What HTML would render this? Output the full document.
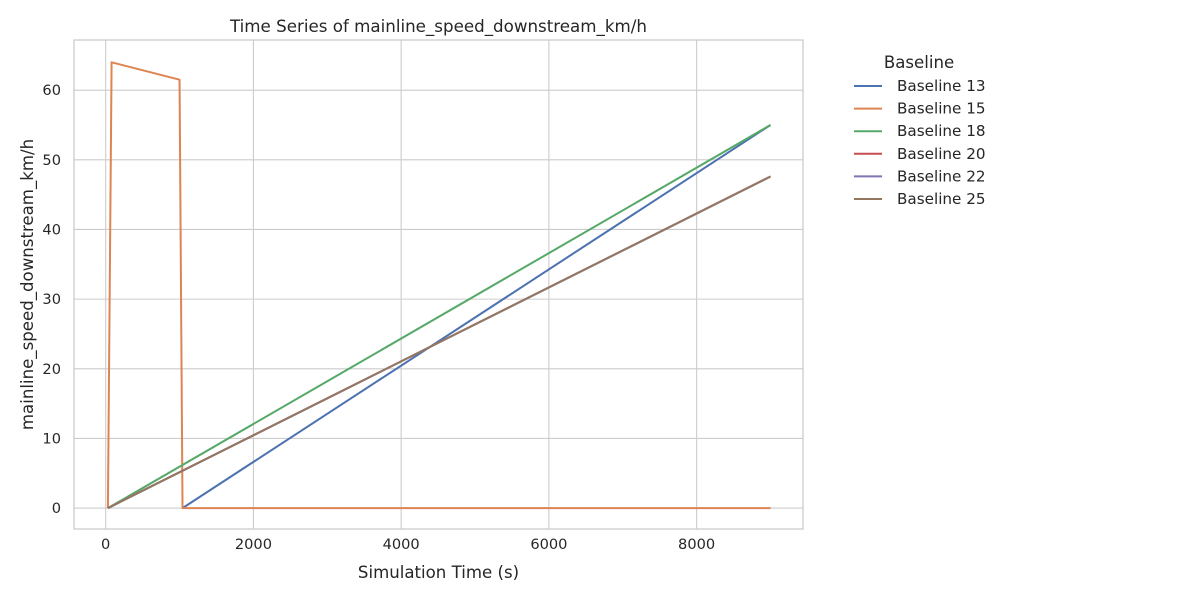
<!DOCTYPE html>
<html><head><meta charset="utf-8"><style>
body{margin:0;background:#fff;font-family:"Liberation Sans","DejaVu Sans",sans-serif;}
svg text{font-family:"DejaVu Sans","Liberation Sans",sans-serif;fill:#262626;}
</style></head><body>
<svg id="chart" width="1200" height="600" xmlns="http://www.w3.org/2000/svg"></svg>
<script>
const seriesNames=["Baseline 13","Baseline 15","Baseline 18","Baseline 20","Baseline 22","Baseline 25"];
const seriesColors=["#4c72b0","#dd8452","#55a868","#c44e52","#8172b3","#937860"];
const times13=[1040,9000];const values13=[0,55];
const times15=[30,80,1000,1040,9000];const values15=[0,64,61.5,0,0];
const times18=[30,9000];const values18=[0,55];
const times20=[30,9000];const values20=[0,47.6];
const times22=[30,9000];const values22=[0,47.6];
const times25=[30,9000];const values25=[0,47.6];
const xTicks=[0,2000,4000,6000,8000];
const yTicks=[0,10,20,30,40,50,60];
const allTimes=[times13,times15,times18,times20,times22,times25];
const allValues=[values13,values15,values18,values20,values22,values25];

const L=74,R=803,T=40,B=529;
const xMin=-429,xMax=9440,yMin=-3.0,yMax=67.2;
const sx=v=>L+(v-xMin)/(xMax-xMin)*(R-L);
const sy=v=>B-(v-yMin)/(yMax-yMin)*(B-T);
const svg=document.getElementById('chart');
const NS="http://www.w3.org/2000/svg";
function mk(tag,attrs,parent){const e=document.createElementNS(NS,tag);for(const k in attrs)e.setAttribute(k,attrs[k]);(parent||svg).appendChild(e);return e;}

xTicks.forEach(t=>{
  const g=mk('line',{x1:sx(t),x2:sx(t),y1:T,y2:B,stroke:'#cccccc','stroke-width':1.1});
  
  
  const tx=mk('text',{x:sx(t),y:B+20,'text-anchor':'middle','font-size':14.6});
  tx.textContent=t;
  
  
});
yTicks.forEach(t=>{
  const g=mk('line',{x1:L,x2:R,y1:sy(t),y2:sy(t),stroke:'#cccccc','stroke-width':1.1});
  
  
  const tx=mk('text',{x:L-13,y:sy(t)+5,'text-anchor':'end','font-size':14.6});
  tx.textContent=t;
  
  
});
const frame=mk('rect',{x:L,y:T,width:R-L,height:B-T,fill:'none',stroke:'#cccccc','stroke-width':1.3});



seriesNames.forEach((n,i)=>{
  const pts=allTimes[i].map((t,j)=>sx(t)+','+sy(allValues[i][j])).join(' ');
  const pl=mk('polyline',{points:pts,fill:'none',stroke:seriesColors[i],'stroke-width':2,'stroke-linejoin':'round'});
  
  
});

const title=mk('text',{x:(L+R)/2,y:32,'text-anchor':'middle','font-size':16.7});
title.textContent='Time Series of mainline_speed_downstream_km/h';


const xl=mk('text',{x:(L+R)/2,y:578,'text-anchor':'middle','font-size':16.6});
xl.textContent='Simulation Time (s)';


const yl=mk('text',{x:0,y:0,'text-anchor':'middle','font-size':16.6,transform:'translate(33,'+((T+B)/2)+') rotate(-90)'});
yl.textContent='mainline_speed_downstream_km/h';



const lt=mk('text',{x:919,y:68,'text-anchor':'middle','font-size':16.6});
lt.textContent='Baseline';


seriesNames.forEach((n,i)=>{
  const y=86+i*22.6;
  const ln=mk('line',{x1:854,x2:882,y1:y,y2:y,stroke:seriesColors[i],'stroke-width':2});
  
  
  const tx=mk('text',{x:897,y:y+5,'font-size':15.2});
  tx.textContent=n;
  
  
});
</script>
</body></html>
